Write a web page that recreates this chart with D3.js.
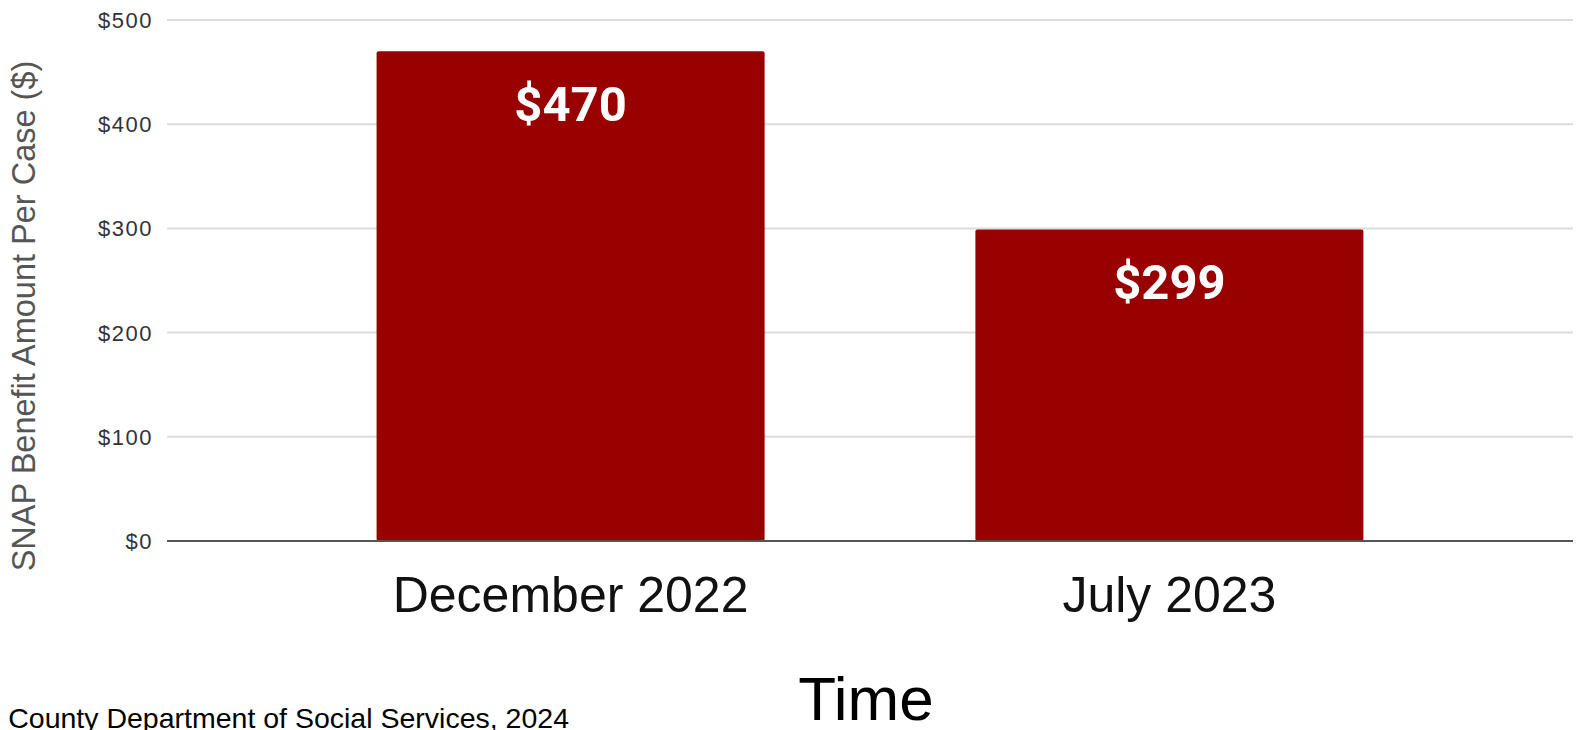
<!DOCTYPE html>
<html>
<head>
<meta charset="utf-8">
<script src="https://cdn.jsdelivr.net/npm/d3@7"></script>
<style>
  body { margin: 0; background: #fff; overflow: hidden; }
  svg { display: block; }
</style>
</head>
<body>
<div id="chart"></div>
<script>
var periods = ["December 2022", "July 2023"];
var amounts = [470, 299];
var yTicks = [0, 100, 200, 300, 400, 500];

var width = 1577;
var height = 730;

var svg = d3.select("#chart")
    .append("svg")
    .attr("width", width)
    .attr("height", height);

var x = d3.scaleBand()
    .domain(periods)
    .range([167, 1573])
    .paddingInner(0.352)
    .paddingOuter(0.35);

var y = d3.scaleLinear()
    .domain([0, 500])
    .range([541, 20]);

// gridlines
svg.append("g")
    .selectAll("line")
    .data(yTicks.filter(function (d) { return d > 0; }))
    .enter()
    .append("line")
    .attr("x1", 167)
    .attr("x2", 1573)
    .attr("y1", function (d) { return y(d); })
    .attr("y2", function (d) { return y(d); })
    .attr("stroke", "#dcdcdc")
    .attr("stroke-width", 2);

// y tick labels
svg.append("g")
    .selectAll("text")
    .data(yTicks)
    .enter()
    .append("text")
    .attr("x", 153)
    .attr("y", function (d) { return y(d); })
    .attr("dy", "0.36em")
    .attr("text-anchor", "end")
    .attr("font-family", "Liberation Sans, Arial, sans-serif")
    .attr("font-size", 22)
    .attr("letter-spacing", 1.5)
    .attr("fill", "#333")
    .text(function (d) { return "$" + d; });

// bars
svg.append("g")
    .selectAll("rect")
    .data(amounts)
    .enter()
    .append("rect")
    .attr("x", function (d, i) { return x(periods[i]); })
    .attr("y", function (d) { return y(d); })
    .attr("width", x.bandwidth())
    .attr("height", function (d) { return y(0) - y(d); })
    .attr("rx", 2)
    .attr("fill", "#990000");

// baseline
svg.append("line")
    .attr("x1", 167)
    .attr("x2", 1573)
    .attr("y1", y(0))
    .attr("y2", y(0))
    .attr("stroke", "#555")
    .attr("stroke-width", 2);

// value labels
svg.append("g")
    .selectAll("text")
    .data(amounts)
    .enter()
    .append("text")
    .attr("x", function (d, i) { return x(periods[i]) + x.bandwidth() / 2; })
    .attr("y", function (d) { return y(d) + 70; })
    .attr("text-anchor", "middle")
    .attr("font-family", "Roboto, sans-serif")
    .attr("font-weight", "bold")
    .attr("font-size", 49)
    .attr("fill", "#fff")
    .text(function (d) { return "$" + d; });

// category labels
svg.append("g")
    .selectAll("text")
    .data(periods)
    .enter()
    .append("text")
    .attr("x", function (d) { return x(d) + x.bandwidth() / 2; })
    .attr("y", 612)
    .attr("text-anchor", "middle")
    .attr("font-family", "Liberation Sans, Arial, sans-serif")
    .attr("font-size", 50)
    .attr("fill", "#111")
    .text(function (d) { return d; });

// axis titles
svg.append("text")
    .attr("x", 866)
    .attr("y", 720)
    .attr("text-anchor", "middle")
    .attr("font-family", "Liberation Sans, Arial, sans-serif")
    .attr("font-size", 62)
    .attr("fill", "#000")
    .text("Time");

svg.append("text")
    .attr("transform", "translate(35,316) rotate(-90)")
    .attr("text-anchor", "middle")
    .attr("font-family", "Liberation Sans, Arial, sans-serif")
    .attr("font-size", 32.5)
    .attr("fill", "#555")
    .text("SNAP Benefit Amount Per Case ($)");

// source note, cut at the left edge
svg.append("text")
    .attr("x", 569)
    .attr("y", 728)
    .attr("text-anchor", "end")
    .attr("font-family", "Liberation Sans, Arial, sans-serif")
    .attr("font-size", 28.5)
    .attr("fill", "#000")
    .text("County Department of Social Services, 2024");
</script>
</body>
</html>
